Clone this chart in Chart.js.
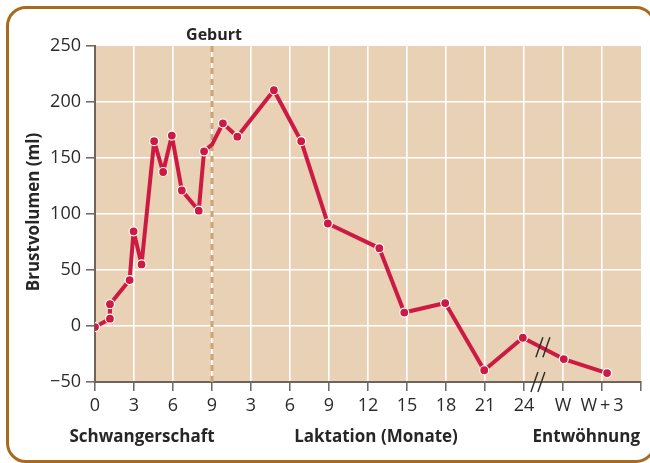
<!DOCTYPE html>
<html lang="de">
<head>
<meta charset="utf-8">
<script src="https://cdn.jsdelivr.net/npm/chart.js@4"></script>
<style>
  html, body { margin: 0; padding: 0; background: #fff; }
  #wrap { position: relative; width: 650px; height: 463px; overflow: hidden; }
  #frame {
    position: absolute; left: 6px; top: 6px; width: 650px; height: 457px;
    border: 3px solid #a86a1d; border-radius: 20px; box-sizing: border-box;
  }
  canvas { position: absolute; left: 0; top: 0; }
</style>
</head>
<body>
<div id="wrap">
  <div id="frame"></div>
  <canvas id="chart" width="650" height="463"></canvas>
</div>
<script>
// x position in months along one timeline: pregnancy 0–9, lactation from 9 on,
// weaning (W) placed at 36, W+3 at 39
const xTickLabels = ['0', '3', '6', '9', '3', '6', '9', '12', '15', '18', '21', '24', 'W', 'W\u2009+\u20093', ''];
const months = [0, 1.15, 1.15, 2.66, 2.97, 3.58, 4.55, 5.24, 5.91, 6.68, 7.98, 8.39, 9.0,
  9.84, 10.95, 13.76, 15.86, 17.91, 21.87, 23.79, 26.94, 29.94, 32.91, 36.06, 39.39];
const volume = [-1, 6.5, 19.5, 41, 84.5, 55, 165, 137.5, 170, 121, 103, 156, 162,
  181, 169, 210.5, 165, 91.5, 69.5, 12, 20.5, -39.5, -10.5, -29.5, -42];
// birth itself is a bend in the line without a marker
const markerShown = [1, 1, 1, 1, 1, 1, 1, 1, 1, 1, 1, 1, 0, 1, 1, 1, 1, 1, 1, 1, 1, 1, 1, 1, 1];
const yTicks = [-50, 0, 50, 100, 150, 200, 250];

const BIRTH = 9;
const BREAK_X = 34.3;
const RED = '#cc1a43';
const AXIS = '#6f635a';
const FONT = '"Open Sans", "Noto Sans", sans-serif';

const decor = {
  id: 'decor',
  beforeDraw(chart) {
    const { ctx, chartArea: a } = chart;
    ctx.save();
    ctx.fillStyle = '#e8d1b4';
    ctx.fillRect(a.left, a.top, a.right - a.left, a.bottom - a.top);
    ctx.restore();
  },
  beforeDatasetsDraw(chart) {
    const { ctx, chartArea: a, scales } = chart;
    const x = scales.x.getPixelForValue(BIRTH);
    ctx.save();
    ctx.strokeStyle = '#c9a47a';
    ctx.lineWidth = 3;
    ctx.setLineDash([6, 5]);
    ctx.beginPath();
    ctx.moveTo(x, a.top);
    ctx.lineTo(x, a.bottom);
    ctx.stroke();
    ctx.restore();
  },
  afterDatasetsDraw(chart) {
    const { ctx, chartArea: a, scales } = chart;
    const slash = (cx, cy) => {
      for (const dx of [-3.5, 3.5]) {
        ctx.beginPath();
        ctx.moveTo(cx + dx - 3.5, cy + 10);
        ctx.lineTo(cx + dx + 3.5, cy - 10);
        ctx.stroke();
      }
    };
    ctx.save();
    ctx.strokeStyle = '#2a2a2a';
    ctx.lineWidth = 1.4;
    // break on the data line between 24 and W
    const i = months.findIndex((m) => m > BREAK_X);
    const t = (BREAK_X - months[i - 1]) / (months[i] - months[i - 1]);
    const v = volume[i - 1] + t * (volume[i] - volume[i - 1]);
    slash(scales.x.getPixelForValue(BREAK_X) + 2, scales.y.getPixelForValue(v));
    // break on the x axis
    slash(scales.x.getPixelForValue(BREAK_X) - 3, a.bottom);
    ctx.restore();
  },
  afterDraw(chart) {
    const { ctx, scales } = chart;
    ctx.save();
    ctx.fillStyle = '#262626';
    ctx.font = `bold 16px ${FONT}`;
    ctx.textBaseline = 'alphabetic';
    ctx.textAlign = 'center';
    ctx.fillText('Geburt', scales.x.getPixelForValue(BIRTH) + 2, 40);
    ctx.font = `bold 17px ${FONT}`;
    ctx.fillText('Schwangerschaft', 142, 442);
    ctx.fillText('Laktation (Monate)', 376, 442);
    ctx.textAlign = 'right';
    ctx.fillText('Entwöhnung', 640, 442);
    ctx.translate(39, 212);
    ctx.rotate(-Math.PI / 2);
    ctx.textAlign = 'center';
    ctx.fillText('Brustvolumen (ml)', 0, 0);
    ctx.restore();
  },
};

new Chart(document.getElementById('chart'), {
  type: 'line',
  data: {
    datasets: [{
      data: months.map((m, i) => ({ x: m, y: volume[i] })),
      borderColor: RED,
      borderWidth: 4,
      borderJoinStyle: 'round',
      pointRadius: markerShown.map((s) => (s ? 4.5 : 0)),
      pointBackgroundColor: RED,
      pointBorderColor: '#fff',
      pointBorderWidth: 1.2,
      tension: 0,
    }],
  },
  options: {
    responsive: false,
    animation: false,
    events: [],
    layout: { padding: { top: 46, right: 9, left: 0, bottom: 0 } },
    plugins: { legend: { display: false }, tooltip: { enabled: false } },
    scales: {
      x: {
        type: 'linear',
        min: 0,
        max: 42,
        afterBuildTicks: (s) => { s.ticks = xTickLabels.map((_, i) => ({ value: i * 3 })); },
        afterFit: (s) => { s.height = 81; },
        ticks: {
          autoSkip: false,
          maxRotation: 0,
          padding: 4,
          color: '#2b2b2b',
          font: { family: FONT, size: 18 },
          callback: (v, i) => xTickLabels[i],
        },
        grid: {
          color: (c) => (c.tick && c.tick.value === 42 ? 'rgba(0,0,0,0)' : '#ffffff'),
          lineWidth: 1.6,
          tickColor: AXIS,
          tickLength: 9,
          tickWidth: 1.5,
        },
        border: { color: AXIS, width: 2 },
      },
      y: {
        min: -50,
        max: 250,
        afterBuildTicks: (s) => { s.ticks = yTicks.map((v) => ({ value: v })); },
        afterFit: (s) => { s.width = 95; },
        ticks: {
          padding: 5,
          color: '#2b2b2b',
          font: { family: FONT, size: 18 },
          callback: (v) => (v < 0 ? '\u2212' + Math.abs(v) : v),
        },
        grid: {
          color: (c) => (c.tick && c.tick.value === 250 ? 'rgba(0,0,0,0)' : '#ffffff'),
          lineWidth: 1.6,
          tickColor: AXIS,
          tickLength: 9,
          tickWidth: 1.5,
        },
        border: { color: AXIS, width: 2 },
      },
    },
  },
  plugins: [decor],
});
</script>
</body>
</html>
